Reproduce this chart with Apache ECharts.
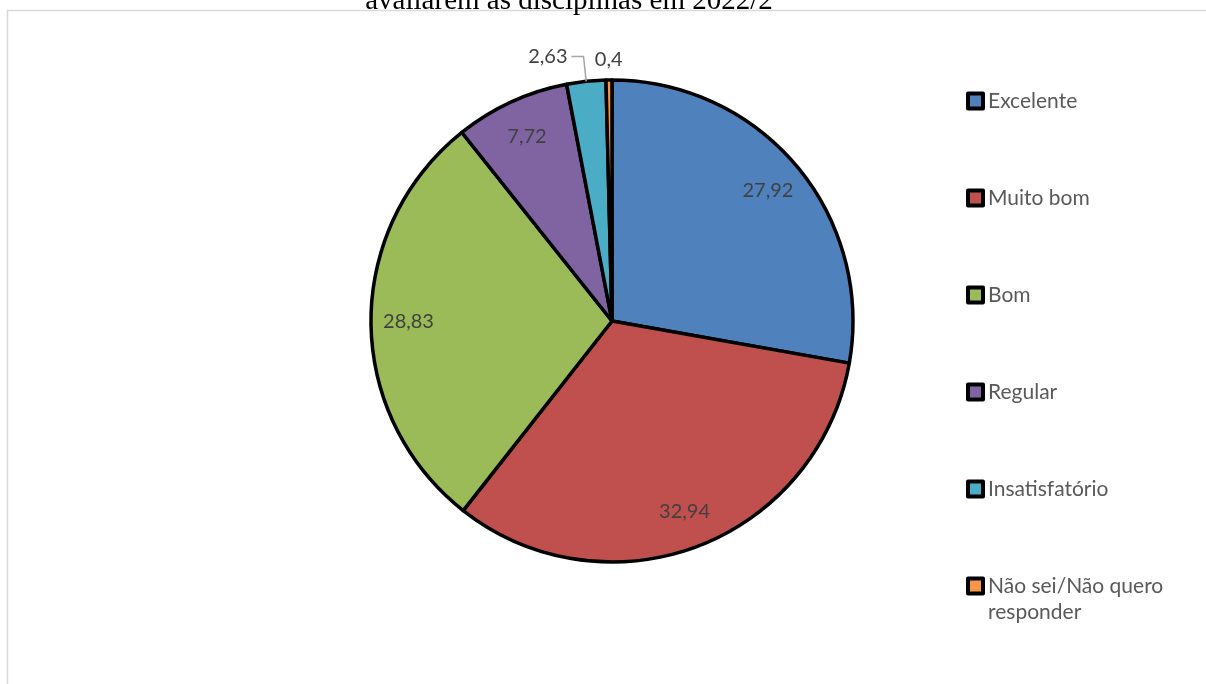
<!DOCTYPE html>
<html><head><meta charset="utf-8">
<script src="https://cdn.jsdelivr.net/npm/echarts@6/dist/echarts.min.js"></script>
<style>html,body{margin:0;padding:0;background:#fff}#c{width:1206px;height:684px}</style>
</head><body><div id="c"></div>
<script>
const categories = ['Excelente', 'Muito bom', 'Bom', 'Regular', 'Insatisfatório', 'Não sei/Não quero responder'];
const values = [27.92, 32.94, 28.83, 7.72, 2.63, 0.4];
const colors = ['#4f81bd', '#c0504d', '#9bbb59', '#8064a2', '#4bacc6', '#f79646'];
const titleText = 'avaliarem as disciplinas em 2022/2';

const FONT = 'Lato';
const fmt = p => String(p.value).replace('.', ',');
const labelBase = { fontFamily: FONT, fontSize: 20, color: '#404040', formatter: fmt };

const mainData = categories.map((n, i) => ({ name: n, value: values[i], itemStyle: { color: colors[i] } }));

const labelDataB = categories.map((n, i) => {
  const d = { name: n, value: values[i] };
  if (i < 4) d.label = { show: true, position: 'inside' };
  else if (i === 4) {
    d.label = { show: true, position: 'outside', distanceToLabelLine: 4 };
    d.labelLine = { show: true, length: 25, length2: 12, lineStyle: { color: '#a6a6a6', width: 1.5 } };
  } else d.label = { show: false };
  return d;
});
const labelDataC = categories.map((n, i) => ({
  name: n, value: values[i], label: { show: i === 5, position: 'inside' }
}));

const legendIconStyle = { borderColor: '#000', borderWidth: 4 };

const chart = echarts.init(document.getElementById('c'), null, { renderer: 'canvas' });
chart.setOption({
  animation: false,
  backgroundColor: '#ffffff',
  graphic: [
    { type: 'rect', silent: true, shape: { x: 7.5, y: 10.5, width: 1400, height: 1000 },
      style: { fill: null, stroke: '#d9d9d9', lineWidth: 1.5 } },
    { type: 'text', silent: true, x: 569, y: 16,
      style: { text: titleText, font: '29px "Liberation Serif"', fill: '#000', align: 'center', verticalAlign: 'bottom' } }
  ],
  legend: [
    {
      orient: 'vertical', left: 966, top: 88, padding: 0,
      itemWidth: 15, itemHeight: 15, itemGap: 71,
      icon: 'rect', itemStyle: legendIconStyle,
      data: categories.slice(0, 5).map((n, i) => ({ name: n, itemStyle: Object.assign({ color: colors[i] }, legendIconStyle) })),
      textStyle: { fontFamily: FONT, fontSize: 21, color: '#595959', lineHeight: 26 },
      selectedMode: false
    },
    {
      orient: 'vertical', left: 966, top: 547, padding: 0,
      itemWidth: 15, itemHeight: 15,
      icon: 'rect', itemStyle: legendIconStyle,
      data: categories.slice(5).map(n => ({ name: n, itemStyle: Object.assign({ color: colors[5] }, legendIconStyle) })),
      formatter: n => '\n' + n.replace('Não quero ', 'Não quero\n'),
      textStyle: { fontFamily: FONT, fontSize: 21, color: '#595959', lineHeight: 26 },
      selectedMode: false
    }
  ],
  series: [
    {
      type: 'pie', center: [612, 321], radius: 241, startAngle: 90, clockwise: true,
      data: mainData, label: { show: false }, labelLine: { show: false },
      itemStyle: { borderColor: '#000', borderWidth: 3.5 },
      emphasis: { disabled: true }, silent: true, avoidLabelOverlap: false
    },
    {
      type: 'pie', center: [612, 321], radius: [160, 241], startAngle: 90, clockwise: true,
      data: labelDataB, label: labelBase, labelLine: { show: false },
      itemStyle: { color: 'rgba(0,0,0,0)', borderWidth: 0 },
      emphasis: { disabled: true }, silent: true, avoidLabelOverlap: false, z: 3
    },
    {
      type: 'pie', center: [612, 321], radius: [241, 275], startAngle: 90, clockwise: true,
      data: labelDataC, label: labelBase, labelLine: { show: false },
      itemStyle: { color: 'rgba(0,0,0,0)', borderWidth: 0 },
      emphasis: { disabled: true }, silent: true, avoidLabelOverlap: false, z: 3
    }
  ]
});
</script></body></html>
